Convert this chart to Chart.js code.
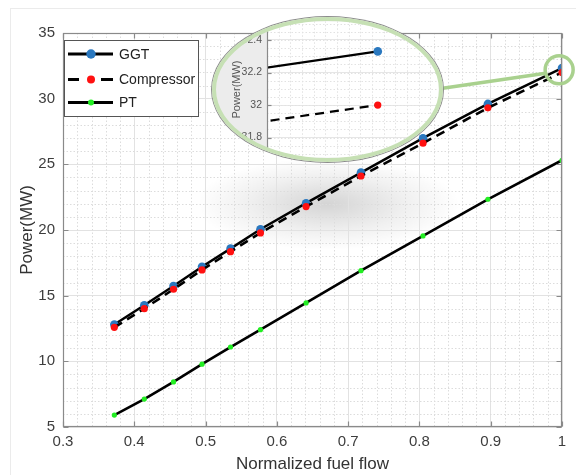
<!DOCTYPE html>
<html><head><meta charset="utf-8">
<script src="https://cdn.jsdelivr.net/npm/chart.js@4.4.0/dist/chart.umd.min.js"></script>
<style>
html,body{margin:0;padding:0;background:#fff;}
#wrap{position:relative;width:576px;height:475px;overflow:hidden;}
#frame{position:absolute;left:10px;top:8px;width:600px;height:500px;border-left:1px solid #ebebeb;border-top:1px solid #ebebeb;}
#blob{position:absolute;left:200px;top:158px;width:265px;height:92px;background:radial-gradient(ellipse 50% 50% at 48% 50%, rgba(0,0,0,0.17), rgba(0,0,0,0.06) 60%, rgba(0,0,0,0) 100%);}
#main{position:absolute;left:0;top:0;}
#insetClip{position:absolute;left:212px;top:17px;width:231px;height:145px;border-radius:50%;overflow:hidden;background:#fff;}
#inset{position:absolute;left:0;top:0;}
#insetRing{position:absolute;left:212px;top:17px;width:231px;height:145px;border-radius:50%;box-sizing:border-box;border:4px solid #c6e0b4;box-shadow:0 0 0 1px #8c8c8c;}
</style></head>
<body><div id="wrap">
<div id="frame"></div><div id="blob"></div>
<canvas id="main" width="576" height="475"></canvas>
<div id="insetClip"><canvas id="inset" width="231" height="145"></canvas></div>
<div id="insetRing"></div>
</div>
<script>
// ---- data ----
const fuelFlow        = [0.372, 0.414, 0.455, 0.495, 0.535, 0.577, 0.641, 0.718, 0.805, 0.896, 1.0];
const ggtPower        = [12.80, 14.27, 15.74, 17.20, 18.58, 20.06, 22.04, 24.37, 26.99, 29.60, 32.33];
const compressorPower = [12.59, 14.01, 15.49, 16.96, 18.35, 19.78, 21.78, 24.11, 26.61, 29.30, 32.00];
const ptPower         = [5.91, 7.13, 8.43, 9.78, 11.09, 12.41, 14.45, 16.90, 19.55, 22.34, 25.31];
const seriesNames     = ['GGT', 'Compressor', 'PT'];
const xTicks = [0.3, 0.4, 0.5, 0.6, 0.7, 0.8, 0.9, 1];
const yTicks = [5, 10, 15, 20, 25, 30, 35];
const insetYTicks = [31.8, 32, 32.2, 32.4];
const xTitle = 'Normalized fuel flow';
const yTitle = 'Power(MW)';

const FONT = "'Liberation Sans', Arial, Helvetica, sans-serif";
const pts = arr => fuelFlow.map((x, i) => ({x, y: arr[i]}));

function makeDatasets(scale) {
  return [
    {label: seriesNames[0], data: pts(ggtPower), borderColor: '#000', borderWidth: 2.5*scale,
     pointBackgroundColor: '#2a78bf', pointBorderColor: '#2a78bf', pointRadius: 4.3, pointBorderWidth: 0, order: 3},
    {label: seriesNames[1], data: pts(compressorPower), borderColor: '#000', borderWidth: 2.6*scale, borderDash: [9, 6],
     pointBackgroundColor: '#ff1010', pointBorderColor: '#ff1010', pointRadius: 3.6, pointBorderWidth: 0, order: 2},
    {label: seriesNames[2], data: pts(ptPower), borderColor: '#000', borderWidth: 2.6*scale,
     pointBackgroundColor: '#22ee22', pointBorderColor: '#22ee22', pointRadius: 2.6, pointBorderWidth: 0, order: 1}
  ].map(d => Object.assign(d, {showLine: true, fill: false, tension: 0}));
}

function stepValues(min, max, step) {
  const out = []; const n = Math.round((max - min) / step);
  for (let i = 0; i <= n; i++) out.push(+(min + i * step).toFixed(8));
  return out;
}

function gridPlugin(opt) {
  return {
    id: 'gridbox',
    beforeDraw(chart) {
      if (!opt.bg) return;
      const {ctx, chartArea: a} = chart;
      ctx.save();
      ctx.fillStyle = opt.bg; ctx.fillRect(0, 0, chart.width, chart.height);
      ctx.fillStyle = '#fff'; ctx.fillRect(a.left, a.top, a.right - a.left, a.bottom - a.top);
      ctx.restore();
    },
    beforeDatasetsDraw(chart) {
      const {ctx, chartArea: a, scales: {x, y}} = chart;
      ctx.save();
      ctx.beginPath(); ctx.rect(a.left, a.top, a.right - a.left, a.bottom - a.top); ctx.clip();
      ctx.strokeStyle = opt.minorColor; ctx.lineWidth = 1; ctx.setLineDash([1.5, 2]);
      opt.minorX.forEach(v => {
        const p = Math.round(x.getPixelForValue(v)) + 0.5;
        ctx.beginPath(); ctx.moveTo(p, a.top); ctx.lineTo(p, a.bottom); ctx.stroke();
      });
      opt.minorY.forEach(v => {
        const p = Math.round(y.getPixelForValue(v)) + 0.5;
        ctx.beginPath(); ctx.moveTo(a.left, p); ctx.lineTo(a.right, p); ctx.stroke();
      });
      ctx.restore();
    },
    afterDatasetsDraw(chart) {
      const {ctx, chartArea: a, scales: {x, y}} = chart;
      ctx.save();
      ctx.strokeStyle = opt.boxColor; ctx.lineWidth = 1.2; ctx.setLineDash([]);
      const L = Math.round(a.left) + 0.5, R = Math.round(a.right) - 0.5, T = Math.round(a.top) + 0.5, B = Math.round(a.bottom) - 0.5;
      if (opt.box) { ctx.strokeRect(L, T, R - L, B - T); }
      else { ctx.beginPath(); ctx.moveTo(L, 0); ctx.lineTo(L, chart.height); ctx.stroke(); }
      const tl = opt.tickLen;
      (opt.yMajor || []).forEach(v => {
        const p = Math.round(y.getPixelForValue(v)) + 0.5;
        ctx.beginPath(); ctx.moveTo(L, p); ctx.lineTo(L + tl, p);
        if (opt.box) { ctx.moveTo(R, p); ctx.lineTo(R - tl, p); }
        ctx.stroke();
      });
      (opt.xMajor || []).forEach(v => {
        const p = Math.round(x.getPixelForValue(v)) + 0.5;
        ctx.beginPath(); ctx.moveTo(p, B); ctx.lineTo(p, B - tl); ctx.moveTo(p, T); ctx.lineTo(p, T + tl); ctx.stroke();
      });
      ctx.restore();
    }
  };
}

const legendPlugin = {
  id: 'customLegend',
  afterDraw(chart) {
    const {ctx, scales: {x, y}} = chart;
    ctx.save();
    // zoom marker circle + connector to the inset
    const cx = x.getPixelForValue(0.996), cy = y.getPixelForValue(32.2);
    ctx.strokeStyle = '#a9d18e'; ctx.lineWidth = 3.5;
    ctx.beginPath(); ctx.arc(cx, cy, 14, 0, Math.PI * 2); ctx.stroke();
    ctx.beginPath(); ctx.moveTo(441, 88.5); ctx.lineTo(cx - 13.5, cy + 3.5); ctx.stroke();

    // legend box
    const bx = 64, by = 40, bw = 134, bh = 76;
    ctx.fillStyle = '#fff'; ctx.fillRect(bx, by, bw, bh);
    ctx.strokeStyle = '#555'; ctx.lineWidth = 1; ctx.strokeRect(bx + 0.5, by + 0.5, bw, bh);
    const rows = [54, 79.5, 102.5];
    chart.data.datasets.forEach((ds, i) => {
      const ry = rows[i];
      ctx.strokeStyle = '#000'; ctx.lineWidth = 2.8;
      if (ds.borderDash) {
        ctx.beginPath(); ctx.moveTo(68, ry); ctx.lineTo(79, ry); ctx.moveTo(101, ry); ctx.lineTo(113, ry); ctx.stroke();
      } else {
        ctx.beginPath(); ctx.moveTo(68, ry); ctx.lineTo(113, ry); ctx.stroke();
      }
      ctx.fillStyle = ds.pointBackgroundColor;
      ctx.beginPath(); ctx.arc(91, ry, ds.pointRadius + 0.4, 0, Math.PI * 2); ctx.fill();
      ctx.fillStyle = '#222'; ctx.font = '14px ' + FONT; ctx.textBaseline = 'middle'; ctx.textAlign = 'left';
      ctx.fillText(ds.label, 119, ry + 1);
    });
    ctx.restore();
  }
};

const noPad = s => { s.paddingTop = 0; s.paddingBottom = 0; s.paddingLeft = 0; s.paddingRight = 0; };

// ---- main chart ----
const mainMinorX = stepValues(0.3, 1, 0.02).filter(v => Math.abs(v * 10 - Math.round(v * 10)) > 1e-6);
const mainMinorY = stepValues(5, 35, 1).filter(v => v % 5 !== 0);
new Chart(document.getElementById('main'), {
  type: 'scatter',
  data: {datasets: makeDatasets(1)},
  options: {
    responsive: false, animation: false, devicePixelRatio: 1,
    layout: {padding: {top: 33, right: 14, left: 0, bottom: 0}},
    plugins: {legend: {display: false}, tooltip: {enabled: false}},
    scales: {
      x: {type: 'linear', min: 0.3, max: 1,
        afterBuildTicks: s => { s.ticks = xTicks.map(v => ({value: v})); },
        afterFit: s => { s.height = 48; },
        ticks: {callback: v => String(+v.toFixed(2)), font: {family: FONT, size: 15}, color: '#3d3d3d', padding: 6, maxRotation: 0, autoSkip: false},
        grid: {color: '#e2e2e2', drawTicks: false}, border: {display: false},
        title: {display: true, text: xTitle, font: {family: FONT, size: 17}, color: '#333', padding: {top: 0, bottom: 0}}
      },
      y: {type: 'linear', min: 5, max: 35,
        afterBuildTicks: s => { s.ticks = yTicks.map(v => ({value: v})); },
        afterFit: s => { s.width = 63; },
        ticks: {callback: v => String(v), font: {family: FONT, size: 15}, color: '#3d3d3d', padding: 8, autoSkip: false},
        grid: {color: '#e2e2e2', drawTicks: false}, border: {display: false},
        title: {display: true, text: yTitle, font: {family: FONT, size: 17}, color: '#333', padding: {top: 17, bottom: 0}}
      }
    }
  },
  plugins: [gridPlugin({minorX: mainMinorX, minorY: mainMinorY, minorColor: '#dcdcdc', boxColor: '#8a8a8a',
    box: true, tickLen: 5, xMajor: xTicks, yMajor: yTicks}), legendPlugin]
});

// ---- inset (zoom) chart ----
const insetMinorX = stepValues(0.9962, 1.0022, 0.0004);
const insetMinorY = stepValues(31.65, 32.5, 0.05);
new Chart(document.getElementById('inset'), {
  type: 'scatter',
  data: {datasets: makeDatasets(0.85)},
  options: {
    responsive: false, animation: false, devicePixelRatio: 1,
    layout: {padding: 0},
    plugins: {legend: {display: false}, tooltip: {enabled: false}},
    scales: {
      x: {type: 'linear', min: 0.9962, max: 1.00209, display: false, afterFit: noPad},
      y: {type: 'linear', min: 31.676, max: 32.515,
        afterBuildTicks: s => { s.ticks = insetYTicks.map(v => ({value: v})); },
        afterFit: s => { s.width = 55; noPad(s); },
        ticks: {callback: v => String(+v.toFixed(1)), font: {family: FONT, size: 10.5}, color: '#555', padding: 5, autoSkip: false},
        grid: {color: '#e6e6e6', drawTicks: false}, border: {display: false},
        title: {display: true, text: yTitle, font: {family: FONT, size: 11}, color: '#555', padding: {top: 18, bottom: 0}}
      }
    }
  },
  plugins: [gridPlugin({bg: '#ececec', minorX: insetMinorX, minorY: insetMinorY, minorColor: '#e2e2e2', boxColor: '#8a8a8a',
    box: false, tickLen: 4, yMajor: insetYTicks})]
});
</script>
</body></html>
